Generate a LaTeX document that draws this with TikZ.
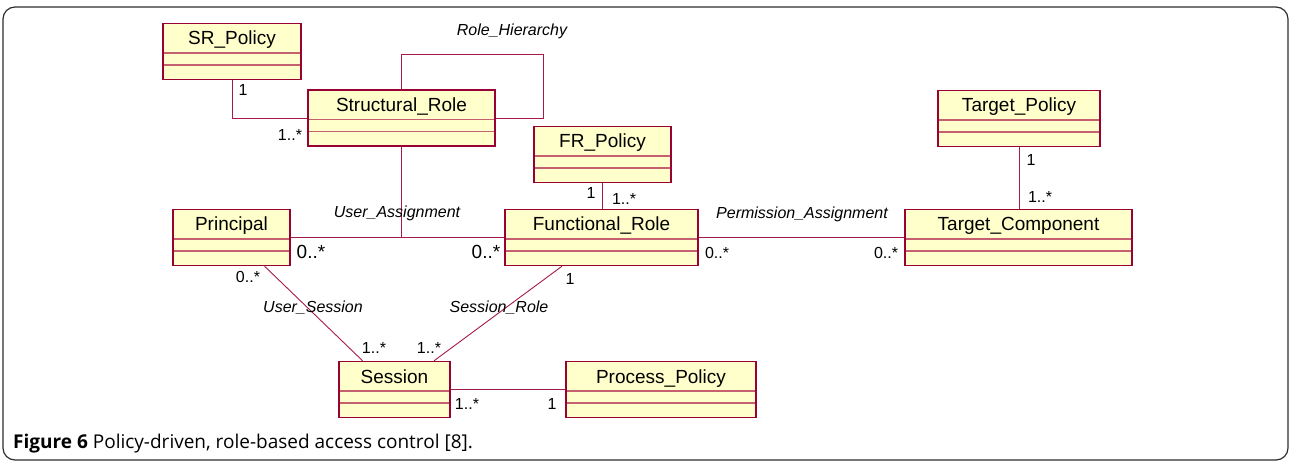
\documentclass[tikz,border=0pt]{standalone}
\usepackage{fontspec}
\setmainfont{Liberation Sans}
\newfontfamily\capfont{Open Sans}
\usepackage{tikz}
\usetikzlibrary{positioning}
\usepackage{xcolor}
\definecolor{umlfill}{RGB}{255,255,204}
\definecolor{umlborder}{RGB}{153,0,51}
\definecolor{umlsep}{RGB}{196,96,112}
\definecolor{umlline}{RGB}{165,25,75}
\definecolor{framegray}{RGB}{45,45,45}
\tikzstyle{umlclass} = [rectangle, draw=umlborder, fill=umlfill, line width=1.5pt, inner xsep=2pt, inner ysep=0pt, text height=21.5pt, text depth=34.5pt, font=\fontsize{19}{19}\selectfont,
  path picture={\draw[umlsep, line width=1.2pt] ([yshift=26.5pt]path picture bounding box.south west) -- ([yshift=26.5pt]path picture bounding box.south east);
                \draw[umlsep, line width=1.2pt] ([yshift=14.5pt]path picture bounding box.south west) -- ([yshift=14.5pt]path picture bounding box.south east);}]
\tikzstyle{assoc} = [umlline, line width=0.9pt]
\tikzstyle{role} = [font=\fontsize{16}{16}\selectfont\itshape, inner sep=0pt]
\tikzstyle{mult} = [font=\fontsize{16}{16}\selectfont, inner sep=0pt]
\tikzstyle{bigmult} = [font=\fontsize{19}{19}\selectfont, inner sep=0pt]

\begin{document}
\begin{tikzpicture}[x=1pt, y=-1pt]
    \useasboundingbox (0,0) rectangle (1290,462);
    \draw[framegray, line width=1.2pt, rounded corners=12pt] (3,7) rectangle (1288,460);

    % Structural roles
    \node[umlclass, minimum width=138pt] (srpolicy) at (232,51.5) {SR\_Policy};
    \node[umlclass, minimum width=187pt] (structrole) at (401.5,118) {Structural\_Role};

    % Functional roles
    \node[umlclass, minimum width=137pt] (frpolicy) at (602.5,154.5) {FR\_Policy};
    \node[umlclass, minimum width=193pt] (funcrole) at (601.5,237.5) {Functional\_Role};

    % Targets
    \node[umlclass, minimum width=162pt] (targetpolicy) at (1019,118.5) {Target\_Policy};
    \node[umlclass, minimum width=227pt] (targetcomp) at (1018.5,237.5) {Target\_Component};

    % Users and sessions
    \node[umlclass, minimum width=117pt] (principal) at (231.5,237.5) {Principal};
    \node[umlclass, minimum width=111pt] (session) at (394.5,389.5) {Session};
    \node[umlclass, minimum width=190pt] (procpolicy) at (661,389.5) {Process\_Policy};

    % Associations
    \draw[assoc] (srpolicy.south) |- (structrole.west);
    \draw[assoc] (structrole.north) |- (543,54) |- (structrole.east);
    \draw[assoc] (principal.east) -- (funcrole.west);
    \draw[assoc] (structrole.south) -- (structrole.south |- principal.east);
    \draw[assoc] (frpolicy.south) -- (frpolicy.south |- funcrole.north);
    \draw[assoc] (funcrole.east) -- (targetcomp.west);
    \draw[assoc] (targetpolicy.south) -- (targetpolicy.south |- targetcomp.north);
    \draw[assoc] (principal.-41) -- (session.138);
    \draw[assoc] (funcrole.216) -- (session.36);
    \draw[assoc] (session.east) -- (procpolicy.west);

    % Association names
    \node[role] (rolehier) at (512,31) {Role\_Hierarchy};
    \node[role] (userassign) at (397,213) {User\_Assignment};
    \node[role] (permassign) at (802,214) {Permission\_Assignment};
    \node[role] (usersession) at (313,308) {User\_Session};
    \node[role] (sessionrole) at (499,308) {Session\_Role};

    % Multiplicities
    \node[mult] (m1) at (243,90) {1};
    \node[mult] (m2) at (290,135) {1..*};
    \node[mult] (m3) at (591,193) {1};
    \node[mult] (m4) at (624,199) {1..*};
    \node[bigmult] (m5) at (311,252) {0..*};
    \node[bigmult] (m6) at (486,252) {0..*};
    \node[mult] (m7) at (717,253) {0..*};
    \node[mult] (m8) at (886,253) {0..*};
    \node[mult] (m9) at (1031,160) {1};
    \node[mult] (m10) at (1040,197) {1..*};
    \node[mult] (m11) at (248,277) {0..*};
    \node[mult] (m12) at (570,279) {1};
    \node[mult] (m13) at (374,348) {1..*};
    \node[mult] (m14) at (429,348) {1..*};
    \node[mult] (m15) at (467,404) {1..*};
    \node[mult] (m16) at (552,404) {1};

    % Caption
    \node[anchor=base west, inner sep=0pt, font=\capfont\fontsize{19}{19}\selectfont] (caption) at (13,448) {\textbf{Figure 6} Policy-driven, role-based access control [8].};
\end{tikzpicture}
\end{document}
